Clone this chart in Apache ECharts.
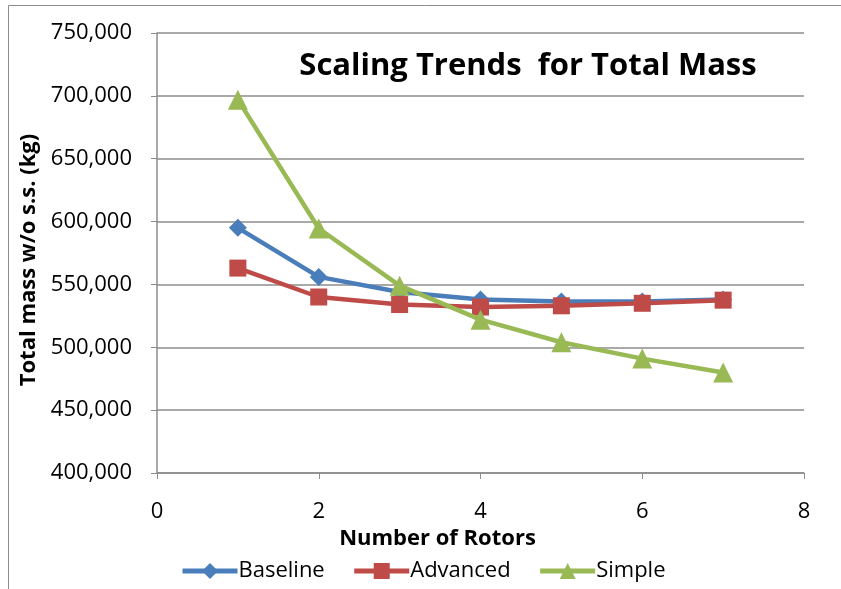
<!DOCTYPE html>
<html>
<head>
<meta charset="utf-8">
<style>
  html, body { margin: 0; padding: 0; background: #fff; }
  #chart { width: 841px; height: 589px; }
</style>
<script src="https://cdn.jsdelivr.net/npm/echarts@6/dist/echarts.min.js"></script>
</head>
<body>
<div id="chart"></div>
<script>
// Number of rotors (x values)
const rotors = [1, 2, 3, 4, 5, 6, 7];
// Total mass without support structure, kg
const baseline = [595000, 556000, 544000, 538000, 536500, 536500, 538000];
const advanced = [563000, 540000, 534000, 532000, 533000, 535000, 537500];
const simple   = [697000, 594500, 549000, 522000, 504000, 491000, 480000];

const seriesNames = ['Baseline', 'Advanced', 'Simple'];
const colors = ['#4A7EBB', '#BE4B48', '#98B954'];

const FONT = '"Open Sans", sans-serif';

function pairs(values) {
  return rotors.map((x, i) => [x, values[i]]);
}

const chart = echarts.init(document.getElementById('chart'));
chart.setOption({
  animation: false,
  backgroundColor: '#fff',
  color: colors,
  graphic: [{
    type: 'rect',
    shape: { x: 8.5, y: 5.5, width: 900, height: 700 },
    style: { fill: 'none', stroke: '#8c8c8c', lineWidth: 1 },
    silent: true
  }],
  title: {
    text: 'Scaling Trends  for Total Mass',
    left: 523, top: 46, textAlign: 'center',
    textStyle: { fontFamily: FONT, fontSize: 31, fontWeight: 'bold', color: '#000' }
  },
  grid: { left: 157, right: 37, top: 33, bottom: 116 },
  xAxis: {
    type: 'value', min: 0, max: 8, interval: 2,
    name: 'Number of Rotors', nameLocation: 'middle', nameGap: 49,
    nameTextStyle: {
      fontFamily: FONT, fontSize: 22, fontWeight: 'bold', color: '#000',
      padding: [0, 86, 0, 0]
    },
    axisLine: { show: true, lineStyle: { color: '#8c8c8c', width: 1.5 } },
    axisTick: { show: true, inside: false, length: 6, lineStyle: { color: '#8c8c8c' } },
    axisLabel: { fontFamily: FONT, fontSize: 22, color: '#000', margin: 28 },
    splitLine: { show: false }
  },
  yAxis: {
    type: 'value', min: 400000, max: 750000, interval: 50000,
    name: 'Total mass w/o s.s. (kg)', nameLocation: 'middle', nameGap: 113, nameRotate: 90,
    nameTextStyle: {
      fontFamily: FONT, fontSize: 22, fontWeight: 'bold', color: '#000',
      padding: [0, 14, 0, 0]
    },
    axisLine: { show: true, lineStyle: { color: '#8c8c8c', width: 1.5 } },
    axisTick: { show: true, inside: false, length: 6, lineStyle: { color: '#8c8c8c' } },
    axisLabel: {
      fontFamily: FONT, fontSize: 22, color: '#000', margin: 25,
      formatter: v => v.toLocaleString('en-US')
    },
    splitLine: { show: true, lineStyle: { color: '#8c8c8c', width: 1.5 } }
  },
  legend: {
    bottom: 2, left: 175,
    itemWidth: 55, itemHeight: 20, itemGap: 27,
    lineStyle: { width: 5 },
    textStyle: { fontFamily: FONT, fontSize: 22, color: '#000', padding: [0, 0, 0, -4] },
    data: seriesNames
  },
  series: [
    {
      name: seriesNames[0], type: 'line', data: pairs(baseline),
      symbol: 'diamond', symbolSize: 18,
      lineStyle: { width: 4.5 }, itemStyle: { color: colors[0] }, z: 3
    },
    {
      name: seriesNames[1], type: 'line', data: pairs(advanced),
      symbol: 'rect', symbolSize: 17,
      lineStyle: { width: 4.5 }, itemStyle: { color: colors[1] }, z: 4
    },
    {
      name: seriesNames[2], type: 'line', data: pairs(simple),
      symbol: 'triangle', symbolSize: 20,
      lineStyle: { width: 4.5 }, itemStyle: { color: colors[2] }, z: 5
    }
  ]
});
</script>
</body>
</html>
